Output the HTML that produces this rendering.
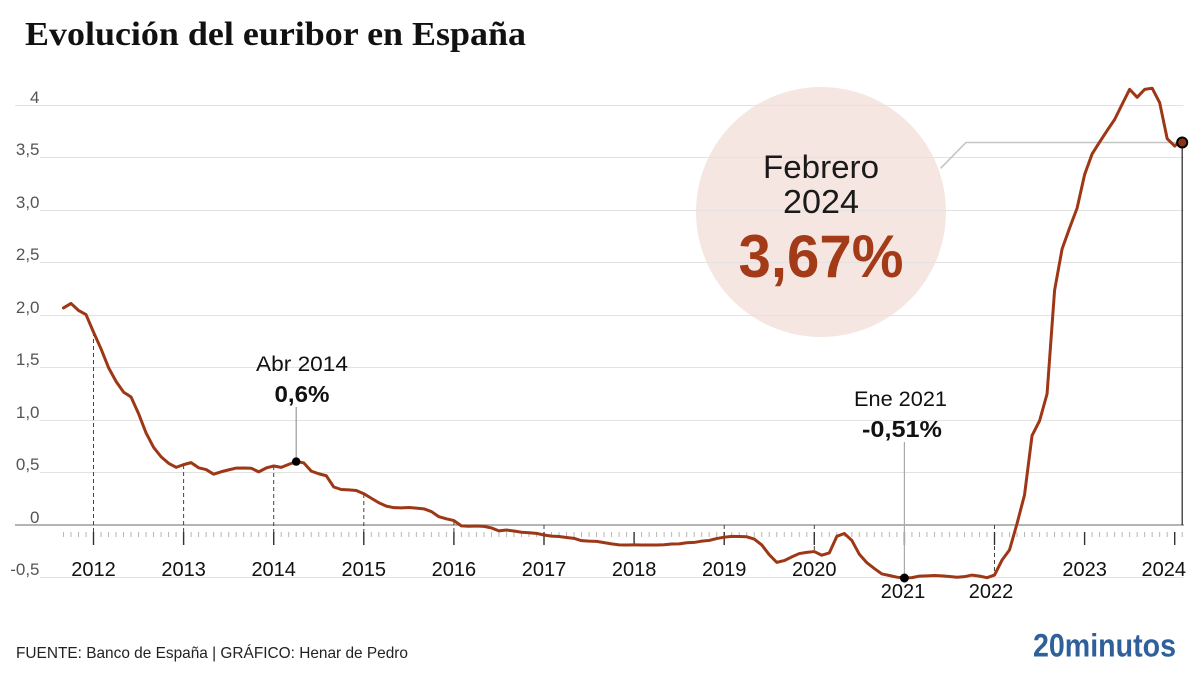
<!DOCTYPE html>
<html><head><meta charset="utf-8"><style>
html,body{margin:0;padding:0;background:#fff;}
svg{display:block;}
text{font-family:"Liberation Sans",Arial,sans-serif;}
</style></head><body>
<svg width="1200" height="675" viewBox="0 0 1200 675" xmlns="http://www.w3.org/2000/svg">
<defs>
<pattern id="mt" patternUnits="userSpaceOnUse" x="62.97" y="0" width="7.5083" height="20">
<rect x="0" y="0" width="1" height="20" fill="#b5b5b5"/>
</pattern>
</defs>
<rect width="1200" height="675" fill="#fff"/>
<text x="25" y="45" font-family="Liberation Serif, serif" font-weight="bold" font-size="34" fill="#111" textLength="501" lengthAdjust="spacingAndGlyphs" style="font-family:'Liberation Serif',serif">Evolución del euribor en España</text>

<!-- bubble -->
<circle cx="821" cy="212" r="125" fill="#f5e6e2"/>

<!-- gridlines -->
<g stroke="#e2e2e2" stroke-width="1">
<line x1="15" y1="105.5" x2="1183.5" y2="105.5"/>
<line x1="40" y1="157.5" x2="1183.5" y2="157.5"/>
<line x1="40" y1="210.5" x2="1183.5" y2="210.5"/>
<line x1="40" y1="262.5" x2="1183.5" y2="262.5"/>
<line x1="40" y1="315.5" x2="1183.5" y2="315.5"/>
<line x1="40" y1="367.5" x2="1183.5" y2="367.5"/>
<line x1="40" y1="420.5" x2="1183.5" y2="420.5"/>
<line x1="40" y1="472.5" x2="1183.5" y2="472.5"/>
<line x1="40" y1="577.5" x2="1183.5" y2="577.5"/>
</g>
<line x1="15" y1="525" x2="1184" y2="525" stroke="#888" stroke-width="1.3"/>

<!-- y labels -->
<g font-size="17" fill="#555" text-anchor="end">
<text x="39.5" y="103">4</text>
<text x="39.5" y="155">3,5</text>
<text x="39.5" y="208">3,0</text>
<text x="39.5" y="260">2,5</text>
<text x="39.5" y="313">2,0</text>
<text x="39.5" y="365">1,5</text>
<text x="39.5" y="418">1,0</text>
<text x="39.5" y="470">0,5</text>
<text x="39.5" y="523">0</text>
<text x="39.5" y="575">-0,5</text>
</g>

<!-- minor ticks -->
<rect x="62.97" y="532" width="1120.5" height="5" fill="url(#mt)"/>

<!-- dashed year lines -->
<g stroke="#444" stroke-width="1" stroke-dasharray="4 3" fill="none">
<line x1="93.5" y1="332" x2="93.5" y2="545"/>
<line x1="183.6" y1="465" x2="183.6" y2="545"/>
<line x1="273.7" y1="466" x2="273.7" y2="545"/>
<line x1="363.8" y1="494" x2="363.8" y2="545"/>
<line x1="453.9" y1="521" x2="453.9" y2="545"/>
<line x1="544" y1="525" x2="544" y2="535"/>
<line x1="724.2" y1="525" x2="724.2" y2="537"/>
<line x1="814.3" y1="525" x2="814.3" y2="551"/>
<line x1="994.5" y1="525" x2="994.5" y2="575"/>
</g>

<!-- major ticks -->
<g stroke="#333" stroke-width="1.4">
<line x1="93.5" y1="532" x2="93.5" y2="545"/>
<line x1="183.6" y1="532" x2="183.6" y2="545"/>
<line x1="273.7" y1="532" x2="273.7" y2="545"/>
<line x1="363.8" y1="532" x2="363.8" y2="545"/>
<line x1="453.9" y1="532" x2="453.9" y2="545"/>
<line x1="544" y1="532" x2="544" y2="545"/>
<line x1="634.1" y1="532" x2="634.1" y2="545"/>
<line x1="724.2" y1="532" x2="724.2" y2="545"/>
<line x1="814.3" y1="532" x2="814.3" y2="545"/>
<line x1="904.4" y1="532" x2="904.4" y2="545"/>
<line x1="994.5" y1="532" x2="994.5" y2="545"/>
<line x1="1084.6" y1="532" x2="1084.6" y2="545"/>
<line x1="1174.7" y1="532" x2="1174.7" y2="545"/>
</g>

<!-- year labels -->
<g font-size="20" fill="#111" text-anchor="middle">
<text x="93.5" y="576">2012</text>
<text x="183.6" y="576">2013</text>
<text x="273.7" y="576">2014</text>
<text x="363.8" y="576">2015</text>
<text x="453.9" y="576">2016</text>
<text x="544" y="576">2017</text>
<text x="634.1" y="576">2018</text>
<text x="724.2" y="576">2019</text>
<text x="814.3" y="576">2020</text>
<text x="903" y="598">2021</text>
<text x="991" y="598">2022</text>
<text x="1084.6" y="576">2023</text>
<text x="1186" y="576" text-anchor="end">2024</text>
</g>

<!-- annotation lines -->
<line x1="296.2" y1="407" x2="296.2" y2="461" stroke="#999" stroke-width="1.2"/>
<line x1="904.4" y1="442" x2="904.4" y2="578" stroke="#aaa" stroke-width="1.2"/>
<line x1="1182.2" y1="142" x2="1182.2" y2="525" stroke="#333" stroke-width="1.3"/>
<polyline points="940.6,168.3 966,142.5 1182,142.5" fill="none" stroke="#c4c4c4" stroke-width="1.6"/>

<!-- data line -->
<g transform="matrix(7.5083 0 0 -105 63.47 525)">
<polyline fill="none" stroke="#9d3716" stroke-width="3" vector-effect="non-scaling-stroke" stroke-linejoin="round" stroke-linecap="round" points="0,2.067 1,2.110 2,2.044 3,2.004 4,1.837 5,1.678 6,1.499 7,1.368 8,1.266 9,1.219 10,1.061 11,0.877 12,0.740 13,0.650 14,0.588 15,0.549 16,0.575 17,0.594 18,0.545 19,0.528 20,0.484 21,0.507 22,0.525 23,0.542 24,0.543 25,0.541 26,0.506 27,0.543 28,0.562 29,0.549 30,0.577 31,0.604 32,0.592 33,0.513 34,0.488 35,0.469 36,0.362 37,0.338 38,0.335 39,0.329 40,0.298 41,0.255 42,0.212 43,0.180 44,0.165 45,0.163 46,0.167 47,0.161 48,0.154 49,0.128 50,0.079 51,0.059 52,0.042 53,-0.008 54,-0.012 55,-0.010 56,-0.013 57,-0.028 58,-0.056 59,-0.048 60,-0.057 61,-0.069 62,-0.074 63,-0.080 64,-0.095 65,-0.106 66,-0.110 67,-0.119 68,-0.127 69,-0.149 70,-0.154 71,-0.156 72,-0.168 73,-0.180 74,-0.189 75,-0.190 76,-0.189 77,-0.191 78,-0.191 79,-0.190 80,-0.188 81,-0.181 82,-0.180 83,-0.169 84,-0.166 85,-0.154 86,-0.147 87,-0.129 88,-0.116 89,-0.108 90,-0.109 91,-0.112 92,-0.134 93,-0.190 94,-0.283 95,-0.356 96,-0.339 97,-0.304 98,-0.272 99,-0.261 100,-0.253 101,-0.288 102,-0.266 103,-0.108 104,-0.081 105,-0.147 106,-0.279 107,-0.359 108,-0.415 109,-0.466 110,-0.481 111,-0.497 112,-0.505 113,-0.501 114,-0.487 115,-0.484 116,-0.481 117,-0.484 118,-0.491 119,-0.498 120,-0.492 121,-0.477 122,-0.487 123,-0.502 124,-0.477 125,-0.335 126,-0.237 127,0.013 128,0.287 129,0.852 130,0.992 131,1.249 132,2.233 133,2.629 134,2.828 135,3.018 136,3.337 137,3.534 138,3.647 139,3.757 140,3.862 141,4.007 142,4.149 143,4.073 144,4.149 145,4.160 146,4.022 147,3.679 148,3.609 149,3.671"/>
</g>

<!-- markers -->
<circle cx="296.2" cy="461.6" r="4.2" fill="#000"/>
<circle cx="904.4" cy="578" r="4.5" fill="#000"/>
<circle cx="1182.2" cy="142.5" r="5" fill="#8e3213" stroke="#000" stroke-width="2"/>

<!-- annotation text -->
<text x="302" y="371" font-size="21" fill="#111" text-anchor="middle" textLength="92" lengthAdjust="spacingAndGlyphs">Abr 2014</text>
<text x="302" y="402" font-size="23" font-weight="bold" fill="#111" text-anchor="middle" textLength="55" lengthAdjust="spacingAndGlyphs">0,6%</text>
<text x="900.5" y="406" font-size="21" fill="#111" text-anchor="middle" textLength="93" lengthAdjust="spacingAndGlyphs">Ene 2021</text>
<text x="902" y="437" font-size="23" font-weight="bold" fill="#111" text-anchor="middle" textLength="80" lengthAdjust="spacingAndGlyphs">-0,51%</text>

<!-- bubble text -->
<text x="821" y="178" font-size="32" fill="#1a1a1a" text-anchor="middle" textLength="116" lengthAdjust="spacingAndGlyphs">Febrero</text>
<text x="821" y="213" font-size="33" fill="#1a1a1a" text-anchor="middle" textLength="76" lengthAdjust="spacingAndGlyphs">2024</text>
<text x="821" y="277" font-size="60" font-weight="bold" fill="#a33a18" text-anchor="middle" textLength="165" lengthAdjust="spacingAndGlyphs">3,67%</text>

<!-- footer -->
<text x="16" y="658" font-size="16" fill="#222" textLength="392" lengthAdjust="spacingAndGlyphs">FUENTE: Banco de España  |  GRÁFICO: Henar de Pedro</text>
<text x="1033" y="656.5" font-size="32" font-weight="bold" fill="#30609c" textLength="143" lengthAdjust="spacingAndGlyphs">20minutos</text>
</svg>
</body></html>
